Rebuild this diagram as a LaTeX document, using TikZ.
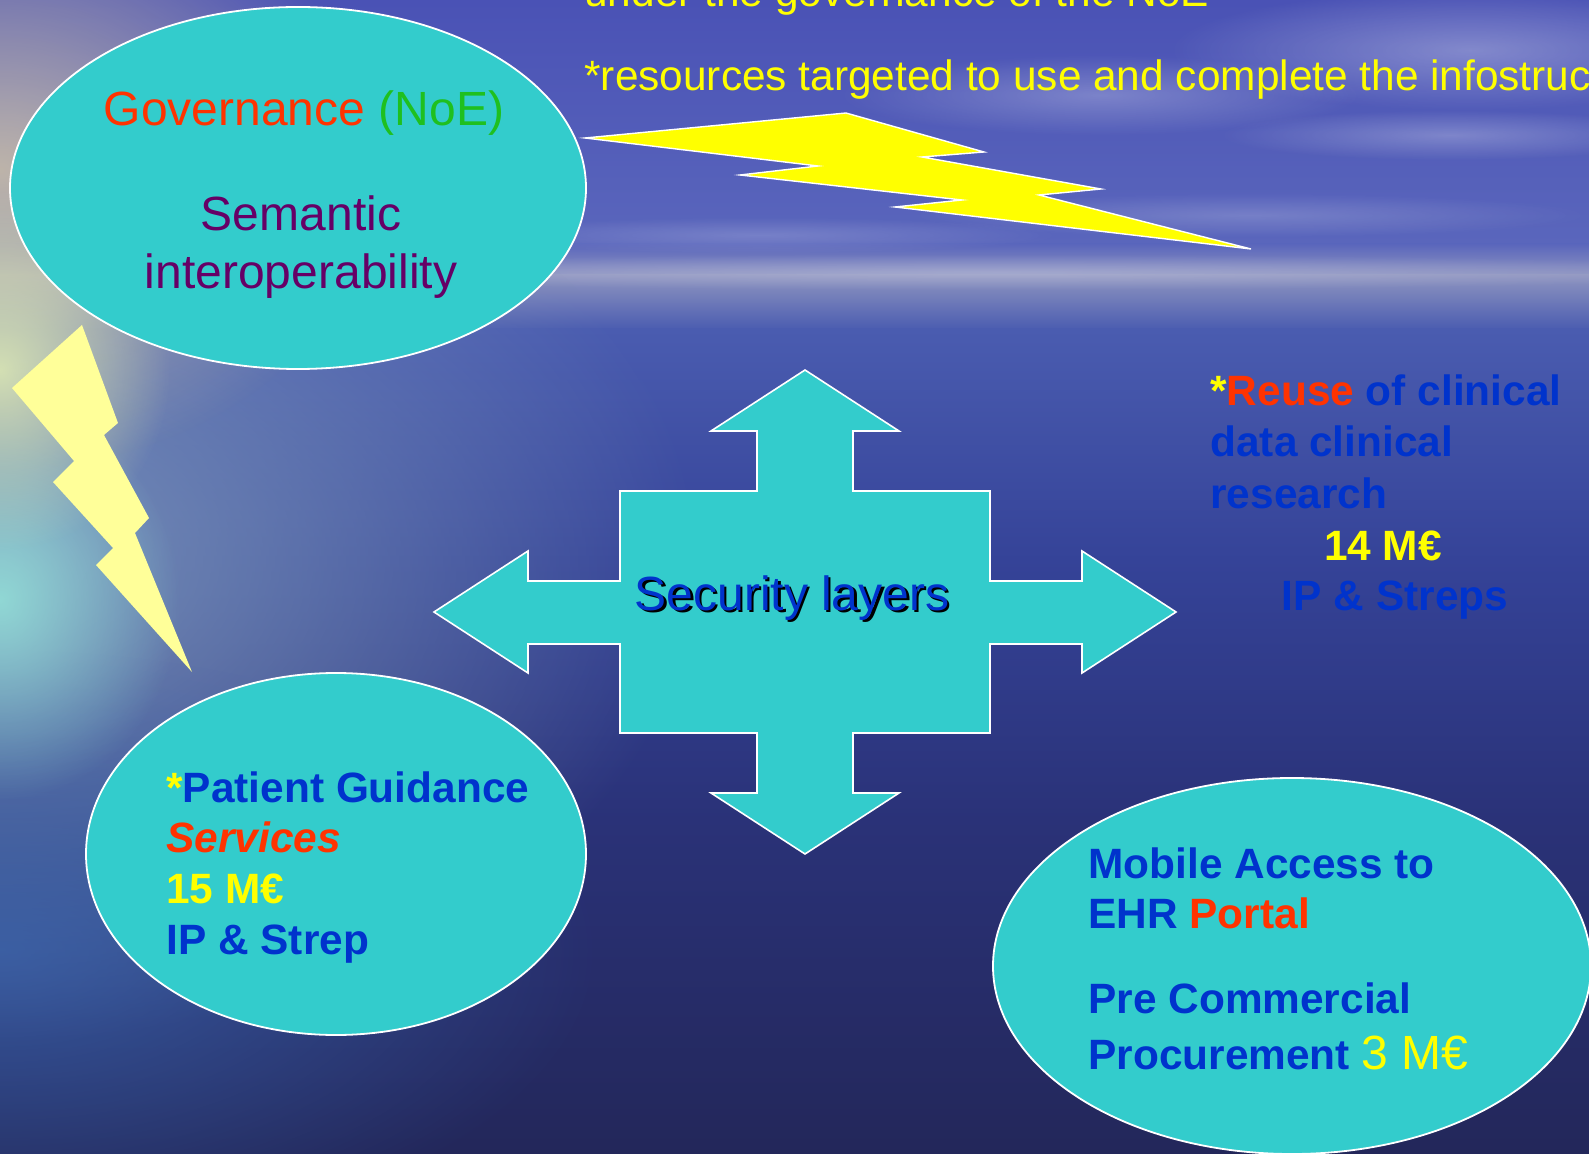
\documentclass[tikz,border=0pt]{standalone}
\usepackage{fontspec}
\setmainfont{Liberation Sans}
\usetikzlibrary{fadings}
\tikzfading[name=softedge, inner color=transparent!0, outer color=transparent!100]
\definecolor{turq}{HTML}{33CCCC}
\definecolor{tblue}{HTML}{0033CC}
\definecolor{tred}{HTML}{FF3300}
\definecolor{tgreen}{HTML}{1FC01F}
\definecolor{tpurple}{HTML}{660066}
\definecolor{tyellow}{HTML}{FFFF00}
\definecolor{paley}{HTML}{FFFF99}
\definecolor{sky1}{HTML}{4A52B5}
\definecolor{sky2}{HTML}{5A66BC}
\definecolor{haze}{HTML}{8E94C0}
\definecolor{sea1}{HTML}{4A5CB0}
\definecolor{sea2}{HTML}{354398}
\definecolor{sea3}{HTML}{2A3278}
\definecolor{sea4}{HTML}{23275A}
\definecolor{tan}{HTML}{C8BCA8}
\definecolor{leftgrey}{HTML}{7C96BA}
\definecolor{leftsea}{HTML}{3E6CB4}
\definecolor{glowa}{HTML}{DCE8B4}
\definecolor{glowb}{HTML}{94E0D8}
\tikzset{
  blob/.style={fill=turq, draw=white, line width=0.9pt},
  boltbig/.style={fill=tyellow, draw=white, line width=0.7pt},
  boltpale/.style={fill=paley},
  cloud/.style={fill=white, path fading=softedge},
  glow/.style={path fading=softedge},
  txt/.style={inner sep=0pt, anchor=base west},
  ctxt/.style={inner sep=0pt, anchor=base},
  reg/.style={font=\fontsize{21.2}{25}\selectfont},
  big/.style={font=\fontsize{24}{29}\selectfont},
  bld/.style={font=\fontsize{21.2}{25}\selectfont\bfseries},
}
\begin{document}
\begin{tikzpicture}[x=0.5pt,y=-0.5pt]
\useasboundingbox (0,0) rectangle (1589,1154);
\clip (0,0) rectangle (1589,1154);
% background bands
\shade[top color=sky1, bottom color=sky2] (0,0) rectangle (1589,245);
\shade[top color=sky2, bottom color=haze] (0,244) rectangle (1589,276);
\shade[top color=haze, bottom color=sea1] (0,275) rectangle (1589,330);
\shade[top color=sea1, bottom color=sea2] (0,329) rectangle (1589,560);
\shade[top color=sea2, bottom color=sea3] (0,559) rectangle (1589,820);
\shade[top color=sea3, bottom color=sea4] (0,819) rectangle (1589,1154);
% clouds and haze
\fill[cloud, opacity=0.30] (1470,50) ellipse (300 and 60);
\fill[cloud, opacity=0.25] (1100,95) ellipse (260 and 40);
\fill[cloud, opacity=0.25] (1450,135) ellipse (230 and 25);
\fill[cloud, opacity=0.18] (1250,215) ellipse (340 and 22);
\fill[cloud, opacity=0.18] (760,235) ellipse (300 and 18);
\fill[cloud, opacity=0.22] (1000,272) ellipse (800 and 18);
% left side light
\fill[leftgrey, glow, opacity=0.95] (0,560) ellipse (700 and 480);
\fill[leftsea, glow, opacity=0.7] (0,950) ellipse (600 and 300);
\fill[tan, glow, opacity=0.9] (0,170) ellipse (380 and 300);
\fill[glowb, glow, opacity=0.9] (0,600) ellipse (180 and 200);
\fill[glowa, glow, opacity=0.9] (0,370) ellipse (170 and 180);
% lightning bolts
\path[boltbig] (585,138) -- (846,113) -- (984,152) -- (922,157) -- (1101,189)
  -- (1039,195) -- (1251,249) -- (895,207) -- (962,200) -- (740,175)
  -- (818,166) -- cycle;
\path[boltpale] (82,325) -- (118,423) -- (104,435) -- (149,518) -- (135,533)
  -- (192,672) -- (96,565) -- (113,548) -- (53,482) -- (74,461) -- (12,388) -- cycle;
% ellipses
\draw[blob] (298,188) ellipse (288 and 181);
\draw[blob] (336,854) ellipse (250 and 181);
\draw[blob] (1292,966) ellipse (299 and 188);
% security cross
\draw[blob, line width=0.8pt] (805,370) -- (899,431) -- (853,431) -- (853,491) -- (990,491)
  -- (990,581) -- (1082,581) -- (1082,551) -- (1176,612) -- (1082,673) -- (1082,644)
  -- (990,644) -- (990,733) -- (853,733) -- (853,793) -- (899,793) -- (805,854)
  -- (711,793) -- (757,793) -- (757,733) -- (620,733) -- (620,644) -- (528,644)
  -- (528,673) -- (434,612) -- (528,551) -- (528,581) -- (620,581) -- (620,491)
  -- (757,491) -- (757,431) -- (711,431) -- cycle;
% top texts
\node[txt, reg, text=tyellow] (under) at (584,7) {under the governance of the NoE};
\node[txt, reg, text=tyellow] (res) at (584,91) {*resources targeted to use and complete the infostructure};
% governance ellipse
\node[ctxt, big] (gov) at (304,126) {\textcolor{tred}{Governance} \textcolor{tgreen}{(NoE)}};
\node[ctxt, big, text=tpurple] (sem) at (301,231) {Semantic};
\node[ctxt, big, text=tpurple] (inter) at (301,289) {interoperability};
% security layers
\node[ctxt, big, text=black] (secsh) at (794.5,612) {Security layers};
\node[ctxt, big, text=tblue] (sec) at (792,610) {Security layers};
% patient guidance
\node[txt, bld, text=tblue] (pg1) at (166,802) {\textcolor{tyellow}{*}Patient Guidance};
\node[txt, bld, text=tred] (pg2) at (166,852) {\itshape Services};
\node[txt, bld, text=tyellow] (pg3) at (166,903) {15 M€};
\node[txt, bld, text=tblue] (pg4) at (166,954) {IP \& Strep};
% reuse
\node[txt, bld, text=tblue] (ru1) at (1210,406) {\textcolor{tyellow}{*}\textcolor{tred}{Reuse} of clinical};
\node[txt, bld, text=tblue] (ru2) at (1210,457) {data clinical};
\node[txt, bld, text=tblue] (ru3) at (1210,509) {research};
\node[ctxt, bld, text=tyellow] (ru4) at (1383,560) {14 M€};
\node[ctxt, bld, text=tblue] (ru5) at (1395,610) {IP \& Streps};
% mobile access
\node[txt, bld, text=tblue] (mo1) at (1088,878) {Mobile Access to};
\node[txt, bld, text=tblue] (mo2) at (1088,928) {EHR \textcolor{tred}{Portal}};
\node[txt, bld, text=tblue] (mo3) at (1088,1013) {Pre Commercial};
\node[txt, bld, text=tblue] (mo4) at (1088,1069) {Procurement {\mdseries\fontsize{24}{29}\selectfont\textcolor{tyellow}{3 M€}}};
\end{tikzpicture}
\end{document}
